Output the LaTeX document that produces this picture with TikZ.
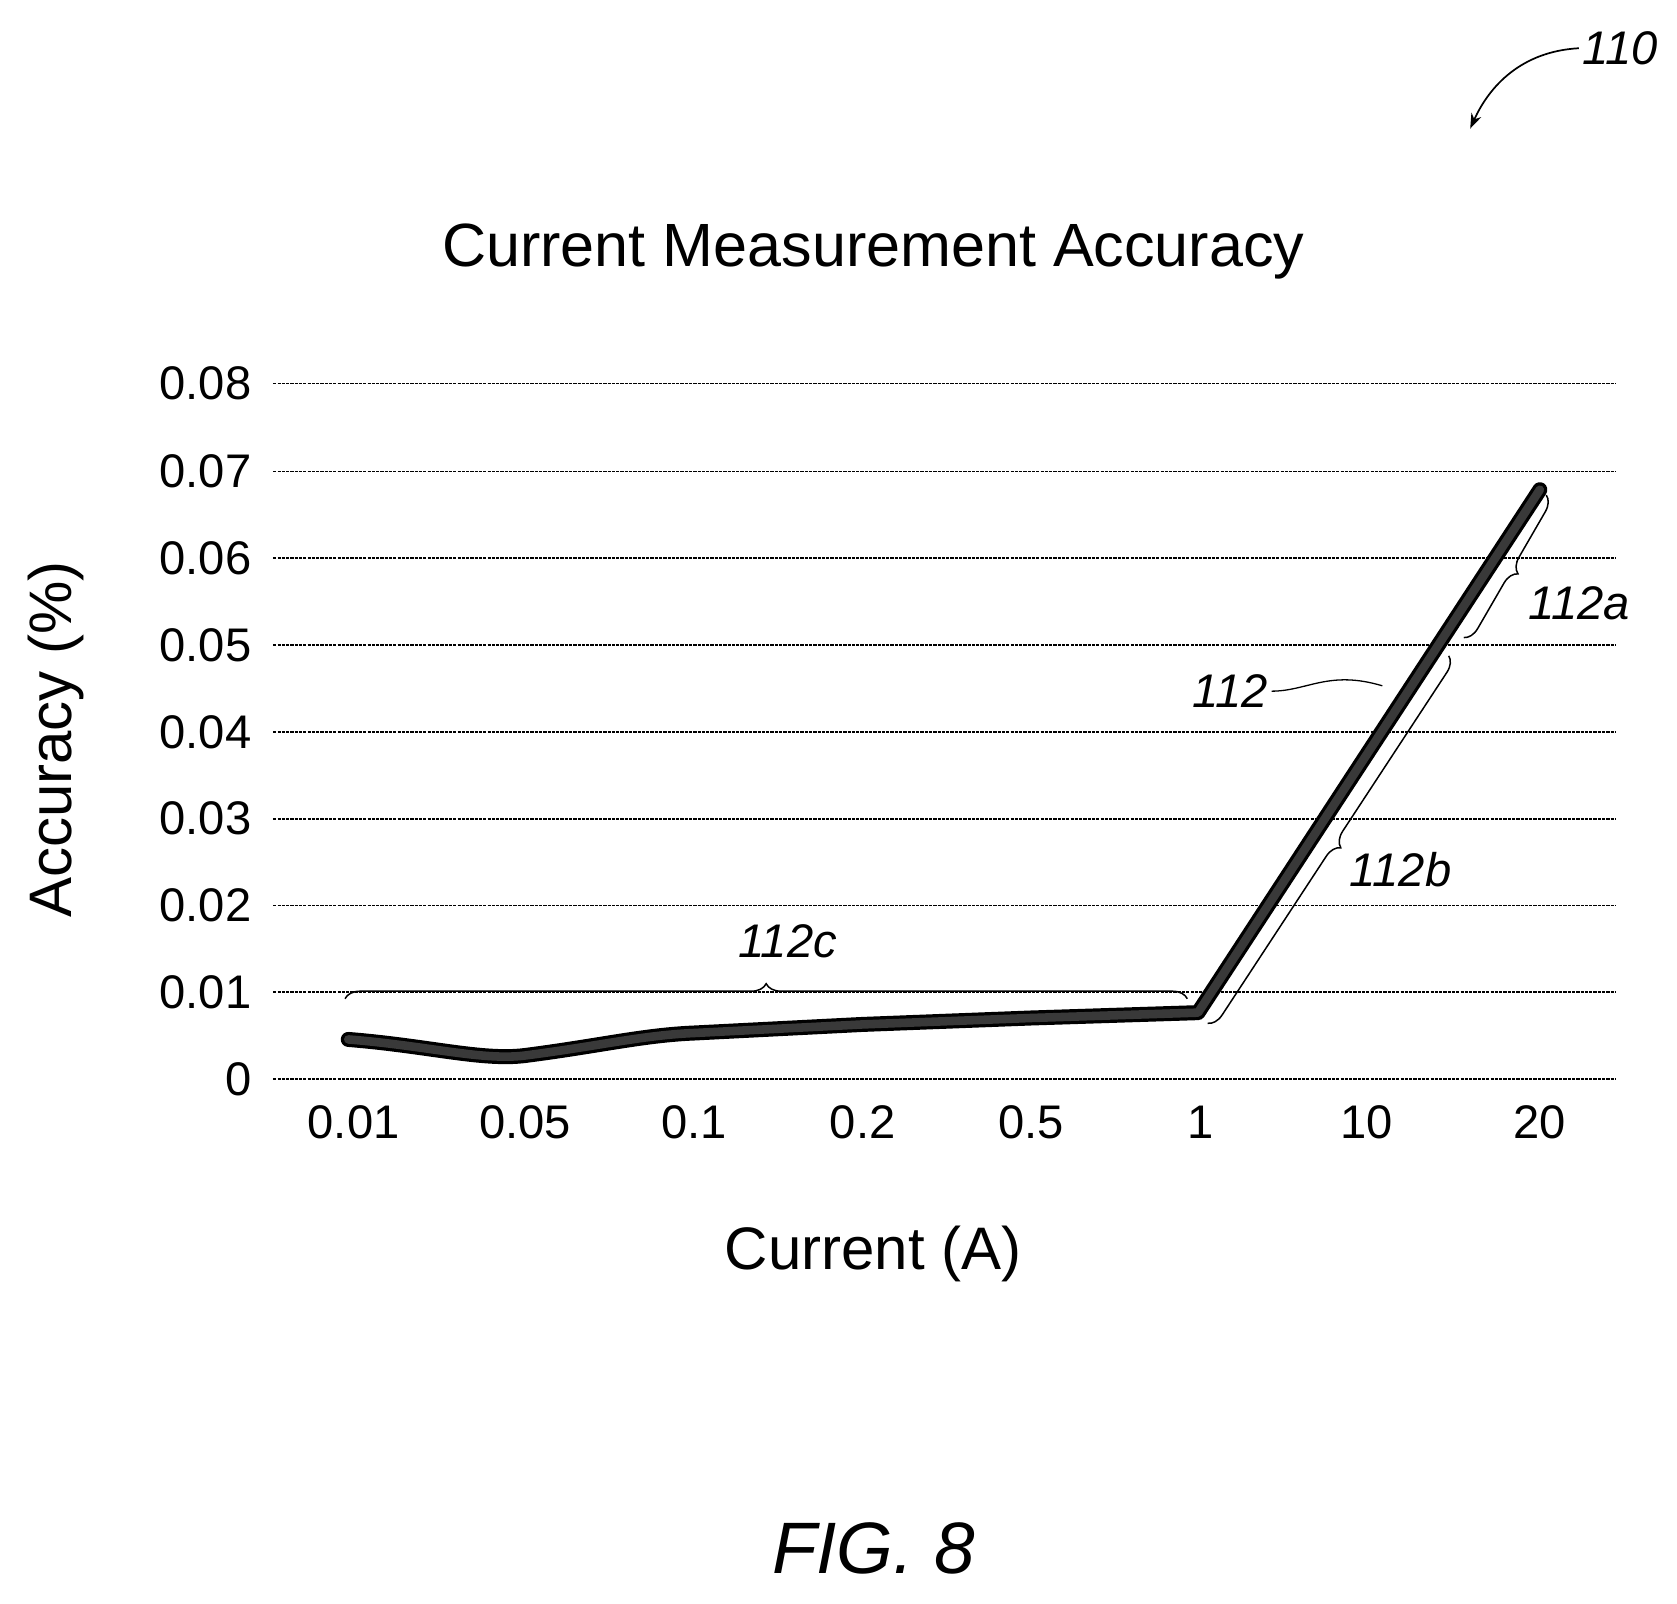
\documentclass[tikz,border=0pt]{standalone}
\usepackage{fontspec}
\setmainfont{Liberation Sans}
\usetikzlibrary{decorations.pathreplacing,arrows.meta}
\begin{document}
\begin{tikzpicture}[x=1pt,y=-1pt,
  grid/.style={line width=1.6pt,dash pattern=on 3pt off 1pt},
  tick/.style={font=\fontsize{44}{48}\selectfont},
  ref/.style={font=\fontsize{44}{48}\selectfont\itshape},
  br/.style={decorate,decoration={brace,amplitude=14pt},line width=1.4pt}]
\useasboundingbox (0,0) rectangle (1565,1496);
\node[font=\fontsize{57}{60}\selectfont] (title) at (815,235) {Current Measurement Accuracy};
\foreach \v/\y in {0.08/358,0.07/440,0.06/521,0.05/602,0.04/683,0.03/764,0.02/845,0.01/926,0/1007}{
  \draw[grid] (255,\y) -- (1508,\y);
  \node[tick,anchor=east] at (238,\y) {\v};
}
\foreach \l/\x in {0.01/330,0.05/490,0.1/648,0.2/805,0.5/962,1/1120,10/1275,20/1437}{
  \node[tick] at (\x,1047) {\l};
}
\node[font=\fontsize{56}{60}\selectfont,rotate=90] (ylab) at (52,690) {Accuracy (\%)};
\node[font=\fontsize{56}{60}\selectfont] (xlab) at (815,1170) {Current (A)};
\draw[line width=14pt,line join=round,line cap=round] (325,970) .. controls (400,976) and (450,990) .. (490,985) .. controls (560,976) and (600,966) .. (648,964) -- (805,956) -- (962,950) -- (1118,945) -- (1437,457);
\draw[line width=8pt,gray!45!black,line join=round,line cap=round] (325,970) .. controls (400,976) and (450,990) .. (490,985) .. controls (560,976) and (600,966) .. (648,964) -- (805,956) -- (962,950) -- (1118,945) -- (1437,457);
\draw[br] (322,932) -- (1108,932);
\node[ref] (c) at (735,878) {112c};
\draw[br] (1443,462) -- (1366,595);
\node[ref] (a) at (1474,563) {112a};
\draw[br] (1352,612) -- (1127,955);
\node[ref] (b) at (1307,812) {112b};
\node[ref] (l) at (1148,645) {112};
\coordinate (lt) at (1290,640);
\draw[line width=1.2pt] (l.east) .. controls (1220,645) and (1240,625) .. (lt);
\node[ref] (n110) at (1512,45) {110};
\draw[line width=1.6pt,-{Stealth[length=14pt,width=10pt]}] (n110.west) .. controls (1420,48) and (1390,80) .. (1372,120);
\node[font=\fontsize{68}{72}\selectfont\itshape] (fig) at (815,1445) {FIG. 8};
\end{tikzpicture}
\end{document}
